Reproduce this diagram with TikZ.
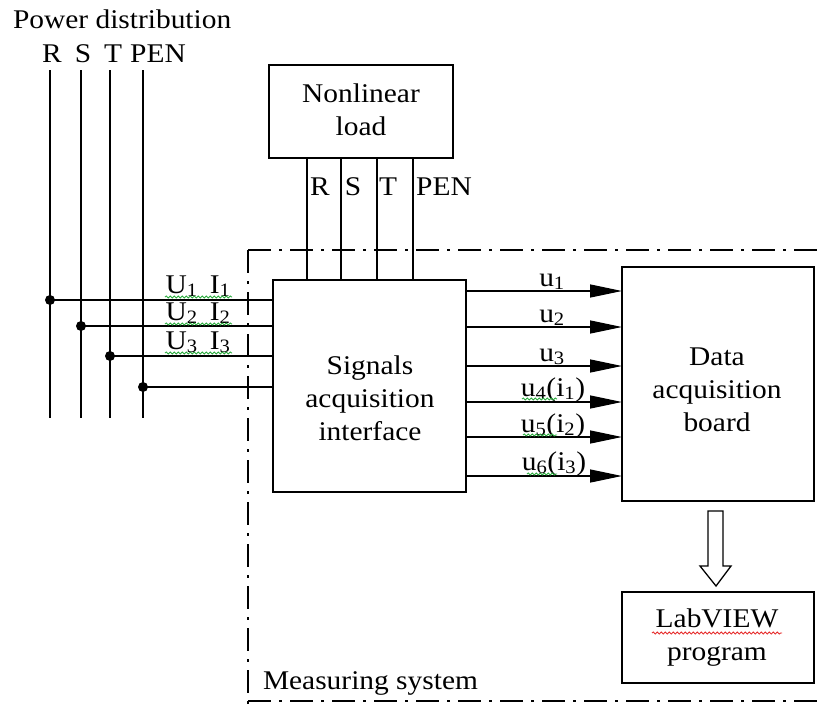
\documentclass[tikz,border=0pt]{standalone}
\usepackage{fontspec}
\setmainfont{Liberation Serif}[FakeStretch=1.09]
\usetikzlibrary{arrows.meta,decorations.pathmorphing}
\definecolor{squigG}{RGB}{40,170,60}
\definecolor{squigR}{RGB}{230,40,40}
\begin{document}
\begin{tikzpicture}[x=1pt,y=-1pt,
  line width=1.3pt,
  every node/.style={font=\fontsize{27}{33}\selectfont, inner sep=0pt, outer sep=0pt},
  box/.style={draw, line width=1.4pt, rectangle},
  sigarr/.style={-{Triangle[length=32pt,width=13pt]}, line width=1.4pt},
  boundary/.style={line width=2pt, dash pattern=on 23pt off 8pt on 3pt off 8pt},
  squig/.style={decorate, decoration={snake, segment length=4pt, amplitude=1.1pt}, line width=0.8pt},
  busdot/.style={circle, fill, minimum size=10pt}]
\clip (0,0) rectangle (821,704);
\useasboundingbox (0,0) rectangle (821,704);
\fill[white] (0,0) rectangle (821,704);

% measuring system boundary
\coordinate (mtl) at (248,250);
\coordinate (mtr) at (835,250);
\coordinate (mbl) at (248,712);
\coordinate (bbl) at (248,701);
\coordinate (bbr) at (835,701);
\draw[boundary] (mtl) -- (mtr);
\draw[boundary] (mtl) -- (mbl);
\draw[boundary] (bbl) -- (bbr);
\node[anchor=base west] (mstxt) at (263,689) {Measuring system};

% blocks
\node[box, minimum width=184pt, minimum height=93pt] (load) at (361,111.5) {};
\node[align=center] (loadtxt) at (361,110) {Nonlinear\\load};
\node[box, minimum width=193pt, minimum height=212pt] (sig) at (369.5,386) {};
\node[align=center] (sigtxt) at (370,398) {Signals\\acquisition\\interface};
\node[box, minimum width=192pt, minimum height=234pt] (daq) at (718,384) {};
\node[align=center] (daqtxt) at (717,390) {Data\\acquisition\\board};
\node[box, minimum width=192pt, minimum height=91pt] (lab) at (718,637.5) {};
\node[align=center] (labtxt) at (717,638) {LabVIEW\\program};

% power distribution
\node[anchor=base west] (pdtxt) at (13,28) {Power distribution};
\node[anchor=base] (lR) at (52,62) {R};
\node[anchor=base] (lS) at (83,62) {S};
\node[anchor=base] (lT) at (113,62) {T};
\node[anchor=base] (lP) at (158,62) {PEN};
\coordinate (Rt) at (50,70);  \coordinate (Rb) at (50,418);
\coordinate (St) at (81,70);  \coordinate (Sb) at (81,418);
\coordinate (Tt) at (110,70); \coordinate (Tb) at (110,418);
\coordinate (Pt) at (143,70); \coordinate (Pb) at (143,418);
\draw (Rt) -- (Rb);
\draw (St) -- (Sb);
\draw (Tt) -- (Tb);
\draw (Pt) -- (Pb);
\node[busdot] (dR) at (50,300) {};
\node[busdot] (dS) at (81,326) {};
\node[busdot] (dT) at (110,356) {};
\node[busdot] (dP) at (143,387) {};
\draw (dR.center) -- (dR.center -| sig.west);
\draw (dS.center) -- (dS.center -| sig.west);
\draw (dT.center) -- (dT.center -| sig.west);
\draw (dP.center) -- (dP.center -| sig.west);
\node[anchor=base] (lui1) at (198,293) {U\textsubscript{1}\hspace{0.45em}I\textsubscript{1}};
\node[anchor=base] (lui2) at (198,320) {U\textsubscript{2}\hspace{0.45em}I\textsubscript{2}};
\node[anchor=base] (lui3) at (198,349) {U\textsubscript{3}\hspace{0.45em}I\textsubscript{3}};
\coordinate (q1a) at (165,297); \coordinate (q1b) at (232,297);
\coordinate (q2a) at (165,324); \coordinate (q2b) at (232,324);
\coordinate (q3a) at (165,353); \coordinate (q3b) at (232,353);
\draw[squig, squigG] (q1a) -- (q1b);
\draw[squig, squigG] (q2a) -- (q2b);
\draw[squig, squigG] (q3a) -- (q3b);

% load connections
\coordinate (cR) at (307,158);
\coordinate (cS) at (341,158);
\coordinate (cT) at (377,158);
\coordinate (cP) at (413,158);
\draw (cR) -- (cR |- sig.north);
\draw (cS) -- (cS |- sig.north);
\draw (cT) -- (cT |- sig.north);
\draw (cP) -- (cP |- sig.north);
\node[anchor=base] (llR) at (320,195) {R};
\node[anchor=base] (llS) at (353,195) {S};
\node[anchor=base] (llT) at (388,195) {T};
\node[anchor=base] (llP) at (444,195) {PEN};

% signal arrows
\coordinate (s1) at (466,291);
\coordinate (s2) at (466,327);
\coordinate (s3) at (466,366);
\coordinate (s4) at (466,402);
\coordinate (s5) at (466,437);
\coordinate (s6) at (466,476);
\draw[sigarr] (s1) -- (s1 -| daq.west);
\draw[sigarr] (s2) -- (s2 -| daq.west);
\draw[sigarr] (s3) -- (s3 -| daq.west);
\draw[sigarr] (s4) -- (s4 -| daq.west);
\draw[sigarr] (s5) -- (s5 -| daq.west);
\draw[sigarr] (s6) -- (s6 -| daq.west);
\node[anchor=base] (lu1) at (552,286) {u\textsubscript{1}};
\node[anchor=base] (lu2) at (552,322) {u\textsubscript{2}};
\node[anchor=base] (lu3) at (552,361) {u\textsubscript{3}};
\node[anchor=base] (lu4) at (553,396) {u\textsubscript{4}(i\textsubscript{1})};
\node[anchor=base] (lu5) at (553,432) {u\textsubscript{5}(i\textsubscript{2})};
\node[anchor=base] (lu6) at (554,470) {u\textsubscript{6}(i\textsubscript{3})};
\coordinate (q4a) at (522,399); \coordinate (q4b) at (557,399);
\coordinate (q5a) at (523,435); \coordinate (q5b) at (557,435);
\coordinate (q6a) at (527,474); \coordinate (q6b) at (557,474);
\draw[squig, squigG] (q4a) -- (q4b);
\draw[squig, squigG] (q5a) -- (q5b);
\draw[squig, squigG] (q6a) -- (q6b);
\coordinate (q7a) at (652,633); \coordinate (q7b) at (782,633);
\draw[squig, squigR] (q7a) -- (q7b);

% hollow arrow from DAQ board to LabVIEW
\draw[line width=1.3pt, fill=white, line join=miter]
  (708,511) -- (723,511) -- (723,566) -- (731,566) -- (716,586)
  -- (700,566) -- (708,566) -- cycle;
\end{tikzpicture}
\end{document}
